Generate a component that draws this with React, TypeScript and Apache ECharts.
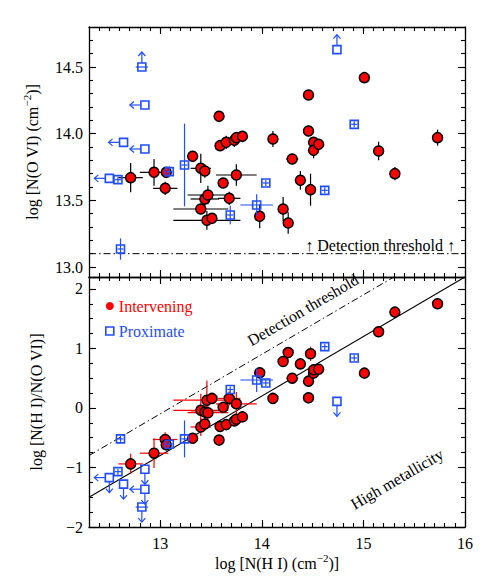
import React, { useEffect, useRef } from "react";
import * as echarts from "echarts";

// ---------- data ----------
// Intervening absorbers
const nhiInt = [12.71, 12.94, 13.05, 13.06, 13.32, 13.40, 13.44, 13.40, 13.44, 13.47, 13.46, 13.51, 13.58, 13.59, 13.65, 13.62, 13.68, 13.73, 13.75, 13.81, 13.75, 13.98, 14.11, 14.21, 14.26, 14.30, 14.38, 14.46, 14.46, 14.48, 14.51, 14.51, 14.56, 15.01, 15.15, 15.31, 15.73];
const noviInt = [13.67, 13.71, 13.59, 13.71, 13.83, 13.74, 13.72, 13.435, 13.51, 13.54, 13.35, 13.365, 14.13, 13.91, 13.935, 13.63, 13.515, 13.95, 13.97, 13.98, 13.69, 13.38, 13.96, 13.435, 13.33, 13.81, 13.65, 14.29, 14.02, 13.58, 13.935, 13.875, 13.92, 14.42, 13.87, 13.70, 13.97];
const ratioInt = [-0.94, -0.76, -0.53, -0.62, -0.51, -0.32, -0.27, -0.04, -0.07, -0.08, 0.13, 0.16, -0.54, -0.31, -0.28, 0.01, 0.16, -0.22, -0.19, -0.15, 0.07, 0.59, 0.16, 0.78, 0.93, 0.50, 0.74, 0.17, 0.45, 0.91, 0.585, 0.64, 0.65, 0.585, 1.28, 1.61, 1.75];
const xerrInt = [0.12, 0.14, 0.12, 0, 0.03, 0.1, 0.03, 0.27, 0.14, 0.2, 0.33, 0, 0, 0, 0, 0, 0.11, 0, 0, 0, 0.2, 0, 0, 0, 0, 0.06, 0, 0, 0, 0, 0, 0, 0, 0, 0, 0, 0];
const yerrIntTop = [0.11, 0.10, 0.05, 0.04, 0.04, 0.11, 0.05, 0.04, 0.05, 0.07, 0.07, 0.04, 0.03, 0.04, 0.05, 0.03, 0.05, 0.05, 0.04, 0.04, 0.08, 0.09, 0.06, 0.09, 0.08, 0.04, 0.07, 0.03, 0.04, 0.12, 0.04, 0.06, 0.04, 0.04, 0.07, 0.05, 0.06];
const yerrIntBot = [0.17, 0.25, 0.12, 0.05, 0.05, 0.15, 0.1, 0.28, 0.15, 0.2, 0.33, 0.05, 0.03, 0.04, 0.05, 0.03, 0.12, 0.05, 0.04, 0.04, 0.2, 0.09, 0.06, 0.09, 0.08, 0.04, 0.07, 0.03, 0.04, 0.12, 0.04, 0.06, 0.04, 0.04, 0.07, 0.05, 0.06];

// Proximate absorbers
const nhiProx = [12.82, 12.85, 12.64, 12.85, 12.50, 12.585, 12.61, 13.09, 13.24, 13.69, 13.95, 14.04, 14.62, 14.74, 14.91];
const noviProx = [14.50, 14.215, 13.935, 13.885, 13.665, 13.655, 13.135, 13.715, 13.765, 13.39, 13.465, 13.63, 13.575, 14.63, 14.07];
const ratioProx = [-1.665, -1.365, -1.28, -1.03, -1.17, -1.07, -0.52, -0.61, -0.52, 0.31, 0.47, 0.42, 1.03, 0.11, 0.84];
const xerrProx = [0.06, 0, 0, 0, 0, 0, 0, 0, 0, 0, 0.16, 0, 0, 0, 0];
const yerrProxTop = [0, 0, 0, 0, 0, 0, 0.08, 0.04, 0.31, 0.07, 0.08, 0, 0, 0, 0];
const yerrProxBot = [0, 0, 0, 0, 0, 0, 0, 0.04, 0.31, 0.05, 0.2, 0, 0, 0, 0];
const limProxTop = ["up", "left", "left", "left", "left", "", "", "", "", "", "", "", "", "up", ""];
const limProxBot = ["down", "left down", "down", "down", "left down", "", "", "", "", "", "", "", "", "down", ""];

// Reference lines
const thresholdTop = [[12.3, 13.1], [16, 13.1]];
const thresholdBot = [[12.3, -0.8], [15.3, 2.2]];
const metalLine = [[12.3, -1.5], [16, 2.2]];

// Tick labels
const xTicks = [13, 14, 15, 16];
const yTicksTop = [13.0, 13.5, 14.0, 14.5];
const yTicksBot = [-2, -1, 0, 1, 2];

// ---------- layout / style ----------
const X_MIN = 12.3, X_MAX = 16;
const YT_MIN = 12.925, YT_MAX = 14.8;
const YB_MIN = -2, YB_MAX = 2.2;
const RED = "#ff0000";
const BLUE = "#1f4dff";
const FONT = "Liberation Serif, Times New Roman, serif";

function seq(a: number, b: number, step: number) {
  const out: number[] = [];
  const n = Math.round((b - a) / step);
  for (let i = 0; i <= n; i++) out.push(+(a + i * step).toFixed(4));
  return out;
}
const xMinor = seq(12.4, 15.9, 0.1);
const yMinorTop = seq(13.0, 14.7, 0.1);
const yMinorBot = seq(-1.75, 2.0, 0.25);

const labelRich = { a: { fontFamily: FONT, fontSize: 16, color: "#000" } };

function mkAxis(grid: number, position: string, min: number, max: number, ticks: number[], len: number, opts: any = {}) {
  return {
    type: "value",
    gridIndex: grid,
    position,
    min,
    max,
    axisLine: { show: !!opts.line, onZero: false, lineStyle: { color: "#000", width: 1.3 } },
    axisTick: { show: true, inside: true, length: len, customValues: ticks, lineStyle: { color: "#000", width: 1.1 } },
    axisLabel: opts.labels
      ? {
          show: true,
          customValues: ticks,
          formatter: (v: number) => "{a|" + opts.fmt(v) + "}",
          rich: labelRich,
          color: "#000",
          fontSize: 16,
          fontFamily: FONT,
          margin: opts.margin ?? 6,
        }
      : { show: false },
    splitLine: { show: false },
    ...(opts.extra || {}),
  };
}

function errorBars(xs: number[], ys: number[], xe: number[], ye: number[], color: string, lims: string[] | null, minHalf: number) {
  return (params: any, api: any) => {
    const i = params.dataIndex;
    const x = xs[i], y = ys[i];
    const c = api.coord([x, y]);
    const lim = lims ? lims[i] : "";
    const st = { stroke: color, lineWidth: 1.2, fill: "none" };
    const kids: any[] = [];
    const free = minHalf > 0 && !lim;
    if (xe[i] > 0 || free) {
      const a = api.coord([x - xe[i], y])[0], b = api.coord([x + xe[i], y])[0];
      kids.push({ type: "line", shape: { x1: Math.min(a, c[0] - minHalf), y1: c[1], x2: Math.max(b, c[0] + minHalf), y2: c[1] }, style: st });
    }
    if (ye[i] > 0 || free) {
      const a = api.coord([x, y - ye[i]])[1], b = api.coord([x, y + ye[i]])[1];
      kids.push({ type: "line", shape: { x1: c[0], y1: Math.max(a, c[1] + minHalf), x2: c[0], y2: Math.min(b, c[1] - minHalf) }, style: st });
    }
    const dirs: number[][] = [];
    if (lim.includes("left")) dirs.push([-1, 0]);
    if (lim.includes("up")) dirs.push([0, -1]);
    if (lim.includes("down")) dirs.push([0, 1]);
    for (const [dx, dy] of dirs) {
      const s0 = 4, L = 15, H = 4, W = 3.5;
      const tx = c[0] + dx * L, ty = c[1] + dy * L;
      kids.push({ type: "line", shape: { x1: c[0] + dx * s0, y1: c[1] + dy * s0, x2: tx, y2: ty }, style: st });
      kids.push({
        type: "polyline",
        shape: { points: [[tx - dx * H - dy * W, ty - dy * H - dx * W], [tx, ty], [tx - dx * H + dy * W, ty - dy * H + dx * W]] },
        style: st,
      });
    }
    return { type: "group", children: kids };
  };
}

const nameRich = {
  t: { fontSize: 16, fontFamily: FONT, color: "#000", lineHeight: 22 },
  s: { fontSize: 11, fontFamily: FONT, color: "#000", lineHeight: 11, verticalAlign: "top" },
};

function buildOption() {
  const grids = [
    { left: 89, top: 27, width: 376, height: 250, containLabel: false, outerBoundsMode: "none" },
    { left: 89, top: 277, width: 376, height: 250, containLabel: false, outerBoundsMode: "none" },
  ];
  const xAxis = [
    mkAxis(0, "bottom", X_MIN, X_MAX, xTicks, 7, { line: true }),
    mkAxis(0, "bottom", X_MIN, X_MAX, xMinor, 4),
    mkAxis(0, "top", X_MIN, X_MAX, xTicks, 7, { line: true }),
    mkAxis(0, "top", X_MIN, X_MAX, xMinor, 4),
    mkAxis(1, "bottom", X_MIN, X_MAX, xTicks, 7, {
      line: true,
      labels: true,
      margin: 8,
      fmt: (v: number) => String(v),
      extra: {
        name: "{t|log [N(H I) (cm}{s|−2}{t|)]}",
        nameLocation: "middle",
        nameGap: 25,
        nameTextStyle: { rich: nameRich },
      },
    }),
    mkAxis(1, "bottom", X_MIN, X_MAX, xMinor, 4),
    mkAxis(1, "top", X_MIN, X_MAX, xTicks, 7, { line: true }),
    mkAxis(1, "top", X_MIN, X_MAX, xMinor, 4),
  ];
  const yAxis = [
    mkAxis(0, "left", YT_MIN, YT_MAX, yTicksTop, 7, {
      line: true,
      labels: true,
      fmt: (v: number) => v.toFixed(1),
      extra: {
        name: "{t|log [N(O VI) (cm}{s|−2}{t|)]}",
        nameLocation: "middle",
        nameRotate: 90,
        nameGap: 46,
        nameTextStyle: { rich: nameRich },
      },
    }),
    mkAxis(0, "left", YT_MIN, YT_MAX, yMinorTop, 4),
    mkAxis(0, "right", YT_MIN, YT_MAX, yTicksTop, 7, { line: true }),
    mkAxis(0, "right", YT_MIN, YT_MAX, yMinorTop, 4),
    mkAxis(1, "left", YB_MIN, YB_MAX, yTicksBot, 7, {
      line: true,
      labels: true,
      fmt: (v: number) => String(v).replace("-", "−"),
      extra: {
        name: "{t|log [N(H I)/N(O VI)]}",
        nameLocation: "middle",
        nameRotate: 90,
        nameGap: 42,
        nameTextStyle: { rich: nameRich },
      },
    }),
    mkAxis(1, "left", YB_MIN, YB_MAX, yMinorBot, 4),
    mkAxis(1, "right", YB_MIN, YB_MAX, yTicksBot, 7, { line: true }),
    mkAxis(1, "right", YB_MIN, YB_MAX, yMinorBot, 4),
  ];

  const dashDot = [7, 3, 1.5, 3];
  const series: any[] = [
    // ---- top panel ----
    {
      type: "line", name: "threshold", xAxisIndex: 0, yAxisIndex: 0, data: thresholdTop, symbol: "none", silent: true, z: 1,
      lineStyle: { color: "#000", width: 1, type: dashDot },
    },
    {
      type: "custom", xAxisIndex: 0, yAxisIndex: 0, z: 2, silent: true,
      data: nhiInt.map((x, i) => [x, noviInt[i]]), encode: { x: 0, y: 1 },
      renderItem: errorBars(nhiInt, noviInt, xerrInt, yerrIntTop, "#000", null, 0),
    },
    {
      type: "scatter", name: "Intervening", xAxisIndex: 0, yAxisIndex: 0, z: 3,
      data: nhiInt.map((x, i) => [x, noviInt[i]]), symbol: "circle", symbolSize: 10,
      itemStyle: { color: RED, borderColor: "#000", borderWidth: 1.5, opacity: 1 },
    },
    {
      type: "custom", xAxisIndex: 0, yAxisIndex: 0, z: 4, silent: true,
      data: nhiProx.map((x, i) => [x, noviProx[i]]), encode: { x: 0, y: 1 },
      renderItem: errorBars(nhiProx, noviProx, xerrProx, yerrProxTop, BLUE, limProxTop, 3),
    },
    {
      type: "scatter", name: "Proximate", xAxisIndex: 0, yAxisIndex: 0, z: 5,
      data: nhiProx.map((x, i) => [x, noviProx[i]]), symbol: "rect", symbolSize: 8,
      itemStyle: { color: "rgba(0,0,0,0)", borderColor: BLUE, borderWidth: 1.6, opacity: 1 },
    },
    // ---- bottom panel ----
    {
      type: "line", name: "threshold", xAxisIndex: 4, yAxisIndex: 4, data: thresholdBot, symbol: "none", silent: true, z: 1,
      lineStyle: { color: "#000", width: 1, type: dashDot },
    },
    {
      type: "line", name: "metallicity", xAxisIndex: 4, yAxisIndex: 4, data: metalLine, symbol: "none", silent: true, z: 1,
      lineStyle: { color: "#000", width: 1.1, type: "solid" },
    },
    {
      type: "custom", xAxisIndex: 4, yAxisIndex: 4, z: 2, silent: true,
      data: nhiInt.map((x, i) => [x, ratioInt[i]]), encode: { x: 0, y: 1 },
      renderItem: errorBars(nhiInt, ratioInt, xerrInt, yerrIntBot, RED, null, 0),
    },
    {
      type: "scatter", name: "Intervening", xAxisIndex: 4, yAxisIndex: 4, z: 3,
      data: nhiInt.map((x, i) => [x, ratioInt[i]]), symbol: "circle", symbolSize: 10,
      itemStyle: { color: RED, borderColor: "#000", borderWidth: 1.5, opacity: 1 },
    },
    {
      type: "custom", xAxisIndex: 4, yAxisIndex: 4, z: 4, silent: true,
      data: nhiProx.map((x, i) => [x, ratioProx[i]]), encode: { x: 0, y: 1 },
      renderItem: errorBars(nhiProx, ratioProx, xerrProx, yerrProxBot, BLUE, limProxBot, 3),
    },
    {
      type: "scatter", name: "Proximate", xAxisIndex: 4, yAxisIndex: 4, z: 5,
      data: nhiProx.map((x, i) => [x, ratioProx[i]]), symbol: "rect", symbolSize: 8,
      itemStyle: { color: "rgba(0,0,0,0)", borderColor: BLUE, borderWidth: 1.6, opacity: 1 },
    },
  ];

  const textFont = "16px Liberation Serif, Times New Roman, serif";
  const ang = Math.atan(59.5 / 101.6);

  return {
    animation: false,
    backgroundColor: "#fff",
    textStyle: { fontFamily: FONT },
    grid: grids,
    xAxis,
    yAxis,
    legend: {
      orient: "vertical",
      left: 105,
      top: 298,
      itemWidth: 8,
      itemHeight: 8,
      itemGap: 9,
      padding: 0,
      selectedMode: false,
      formatter: (name: string) => (name === "Intervening" ? "{r|" : "{b|") + name + "}",
      textStyle: {
        fontSize: 16,
        fontFamily: FONT,
        rich: {
          r: { color: RED, fontFamily: FONT, fontSize: 16 },
          b: { color: BLUE, fontFamily: FONT, fontSize: 16 },
        },
      },
      data: [
        { name: "Intervening", icon: "circle", itemStyle: { color: RED, borderWidth: 0 } },
        { name: "Proximate", icon: "rect", itemStyle: { color: "rgba(0,0,0,0)", borderColor: BLUE, borderWidth: 1.6 } },
      ],
    },
    graphic: [
      {
        type: "text", x: 455, y: 245, silent: true,
        style: { text: "↑ Detection threshold ↑", font: textFont, fill: "#000", textAlign: "right", align: "right", textVerticalAlign: "middle", verticalAlign: "middle" },
      },
      {
        type: "text", x: 303, y: 310, rotation: ang, silent: true,
        style: { text: "Detection threshold", font: textFont, fill: "#000", textAlign: "center", align: "center", textVerticalAlign: "middle", verticalAlign: "middle" },
      },
      {
        type: "text", x: 397, y: 479, rotation: ang, silent: true,
        style: { text: "High metallicity", font: textFont, fill: "#000", textAlign: "center", align: "center", textVerticalAlign: "middle", verticalAlign: "middle" },
      },
    ],
    series,
  };
}

export default function App() {
  const ref = useRef<HTMLDivElement>(null);
  useEffect(() => {
    if (!ref.current) return;
    const chart = echarts.init(ref.current, undefined, { renderer: "svg" });
    chart.setOption(buildOption() as any);
    return () => chart.dispose();
  }, []);
  return (
    <div
      ref={ref}
      style={{ position: "fixed", left: 0, top: 0, width: 491, height: 583, background: "#fff" }}
    />
  );
}
